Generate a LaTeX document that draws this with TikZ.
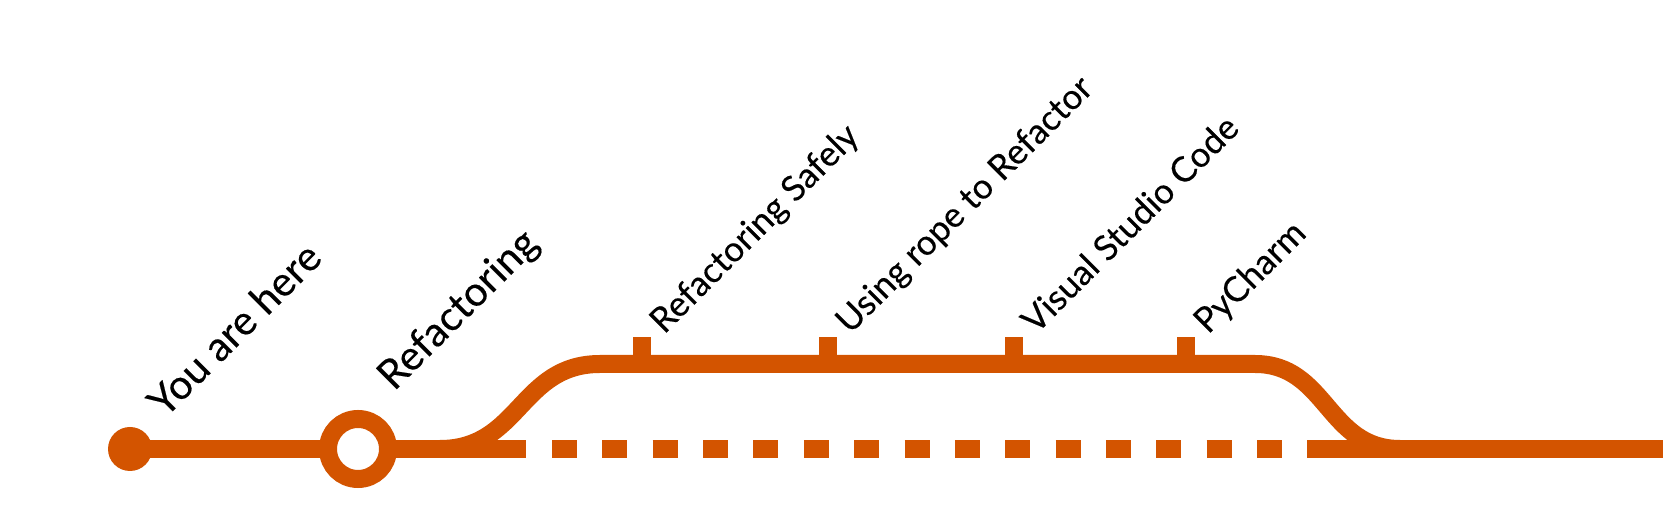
\documentclass[tikz,border=0pt]{standalone}
\usepackage{fontspec}
\setmainfont{Lato}
\newfontfamily\labelfont[FakeBold=0.3]{Lato}
\usetikzlibrary{backgrounds}
\definecolor{lineorange}{HTML}{D35400}
\tikzset{
  track/.style={draw=lineorange, line width=18pt},
  bigname/.style={rotate=45, anchor=base west, inner sep=0pt, font=\labelfont\fontsize{41}{43}\selectfont},
  smallname/.style={rotate=45, anchor=base west, inner sep=0pt, font=\labelfont\fontsize{35}{37}\selectfont},
}
\begin{document}
\begin{tikzpicture}[x=1pt,y=1pt]
    \useasboundingbox (0,0) rectangle (1668,521);

    % stations on the main line
    \node[circle, fill=lineorange, minimum size=44pt, inner sep=0pt] (here) at (130,72) {};
    \node[circle, draw=lineorange, line width=18pt, fill=white, minimum size=60pt, inner sep=0pt] (refac) at (358,72) {};

    \coordinate (mainend) at (526,72);
    \coordinate (dashstart) at (552,72);
    \coordinate (dashend) at (1282,72);
    \coordinate (rightstart) at (1307,72);
    \coordinate (rightend) at (1663,72);

    \begin{scope}[on background layer]
        \draw[track] (here.center) -- (refac.center) -- (mainend);
    \end{scope}
    \draw[track, dash pattern=on 25pt off 25.36pt] (dashstart) -- (dashend);
    \draw[track] (rightstart) -- (rightend);

    % upper branch
    \coordinate (fork) at (440,72);
    \coordinate (upleft) at (600,157);
    \coordinate (upright) at (1255,157);
    \coordinate (join) at (1400,72);
    \draw[track] (fork) .. controls +(80,0) and +(-80,0) .. (upleft) -- (upright) .. controls +(72,0) and +(-73,0) .. (join);

    \foreach \x/\txt in {642/Refactoring Safely, 828/Using rope to Refactor, 1014/Visual Studio Code, 1186/PyCharm} {
        \coordinate (tick\x) at (\x,157);
        \draw[track] (tick\x) -- ++(0,27) coordinate (top\x);
        \node[smallname] (name\x) at ([xshift=22pt, yshift=2pt]top\x) {\txt};
    }

    \node[bigname] (herename) at (165,102) {You are here};
    \node[bigname] (refacname) at (394,129) {Refactoring};

\end{tikzpicture}
\end{document}
